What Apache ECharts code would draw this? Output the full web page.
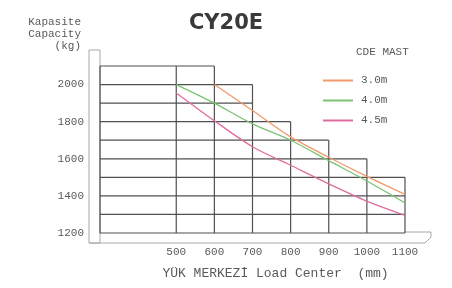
<!DOCTYPE html>
<html>
<head>
<meta charset="utf-8">
<script src="https://cdn.jsdelivr.net/npm/echarts@6/dist/echarts.min.js"></script>
<style>
  html, body { margin: 0; padding: 0; background: #fff; }
  #chart { width: 452px; height: 288px; }
</style>
</head>
<body>
<div id="chart"></div>
<script>
// load center (mm) where each curve is sampled
const centers30 = [600, 700, 800, 900, 1000, 1100];
const centers40 = [500, 600, 700, 800, 900, 1000, 1100];
const centers45 = [500, 600, 700, 800, 900, 1000, 1100];
// capacity (kg) per mast height
const mast30 = [2000, 1860, 1718, 1608, 1505, 1408];
const mast40 = [2000, 1900, 1788, 1700, 1590, 1480, 1362];
const mast45 = [1955, 1805, 1665, 1565, 1465, 1372, 1295];
const mastNames = ["3.0m", "4.0m", "4.5m"];

// stepped background table: horizontal rows and where each one stops
const rowLevels = [2100, 2000, 1900, 1800, 1700, 1600, 1500, 1400, 1300, 1200];
const rowEnds = [600, 700, 700, 800, 900, 1000, 1100, 1100, 1100, 1100];
// vertical columns and the level each one starts from
const colPositions = [300, 500, 600, 700, 800, 900, 1000, 1100];
const colTops = [2100, 2100, 2100, 2000, 1800, 1700, 1600, 1500];

const xMin = 300, xMax = 1100, yMin = 1200, yMax = 2100;
const fontMono = "Liberation Mono";
const textGray = "#5a5a5a";
const gridColor = "#505050";

const chart = echarts.init(document.getElementById("chart"));

function pairs(xs, ys) {
  return xs.map((x, i) => [x, ys[i]]);
}

// rows of the table
function renderRow(params, api) {
  const a = api.coord([xMin, api.value(0)]);
  const b = api.coord([api.value(1), api.value(0)]);
  return {
    type: "line",
    shape: { x1: a[0], y1: a[1], x2: b[0], y2: b[1] },
    style: { stroke: gridColor, lineWidth: 1.2 },
  };
}

// columns of the table
function renderCol(params, api) {
  const a = api.coord([api.value(0), yMin]);
  const b = api.coord([api.value(0), api.value(1)]);
  return {
    type: "line",
    shape: { x1: a[0], y1: a[1], x2: b[0], y2: b[1] },
    style: { stroke: gridColor, lineWidth: 1.2 },
  };
}

// the thin "box" axis frame round the table
function renderFrame(params, api) {
  const bl = api.coord([xMin, yMin]);
  const tl = api.coord([xMin, yMax]);
  const br = api.coord([xMax, yMin]);
  const st = { stroke: "#a8a8a8", fill: null, lineWidth: 1 };
  return {
    type: "group",
    children: [
      {
        type: "rect",
        shape: { x: bl[0] - 11, y: tl[1] - 16, width: 11, height: bl[1] - tl[1] + 26 },
        style: st,
      },
      {
        type: "polyline",
        shape: {
          points: [
            [bl[0] - 11, bl[1] + 10],
            [br[0] + 20, bl[1] + 10],
            [br[0] + 26, bl[1] + 4],
            [br[0] + 26, bl[1] - 1],
            [br[0], bl[1] - 1],
          ],
        },
        style: st,
      },
    ],
  };
}

const option = {
  animation: false,
  title: [
    {
      text: "CY20E",
      left: "center",
      top: 8,
      textStyle: { fontSize: 21, fontWeight: "bold", color: "#3a3a3a", fontFamily: "DejaVu Sans" },
    },
    {
      text: "CDE MAST",
      left: 351,
      top: 42,
      textStyle: { fontSize: 11, fontWeight: "normal", color: textGray, fontFamily: fontMono },
    },
  ],
  legend: {
    orient: "vertical",
    left: 318,
    top: 70,
    icon: "rect",
    itemWidth: 30,
    itemHeight: 2,
    itemGap: 9,
    data: mastNames,
    textStyle: { fontSize: 11, color: textGray, fontFamily: fontMono, padding: [0, 0, 0, 3] },
  },
  grid: { left: 100, right: 47, top: 66, bottom: 55 },
  xAxis: {
    type: "value",
    min: xMin,
    max: xMax,
    interval: 100,
    axisLine: { show: false },
    axisTick: { show: false },
    splitLine: { show: false },
    axisLabel: {
      margin: 14,
      fontSize: 11,
      color: textGray,
      fontFamily: fontMono,
      formatter: (v) => (v >= 500 ? String(v) : ""),
    },
    name: "YÜK MERKEZİ Load Center  (mm)",
    nameLocation: "middle",
    nameGap: 34,
    nameTextStyle: { fontSize: 13, color: textGray, fontFamily: fontMono, padding: [0, 0, 0, 46] },
  },
  yAxis: {
    type: "value",
    min: yMin,
    max: yMax,
    interval: 100,
    axisLine: { show: false },
    axisTick: { show: false },
    splitLine: { show: false },
    axisLabel: {
      margin: 16,
      fontSize: 11,
      color: textGray,
      fontFamily: fontMono,
      formatter: (v) => (v % 200 === 0 && v < yMax ? String(v) : ""),
    },
    name: "Kapasite\nCapacity\n(kg)",
    nameLocation: "end",
    nameGap: 14,
    nameTextStyle: {
      fontSize: 11,
      lineHeight: 12,
      color: textGray,
      fontFamily: fontMono,
      align: "right",
      verticalAlign: "bottom",
      padding: [0, 19, 0, 0],
    },
  },
  series: [
    { type: "custom", silent: true, renderItem: renderFrame, data: [[xMin, yMin]], clip: false, z: 1 },
    { type: "custom", silent: true, renderItem: renderRow, data: pairs(rowLevels, rowEnds), z: 2 },
    { type: "custom", silent: true, renderItem: renderCol, data: pairs(colPositions, colTops), z: 2 },
    {
      name: mastNames[0],
      type: "line",
      smooth: 0.3,
      showSymbol: false,
      color: "#f29a6a",
      lineStyle: { width: 1.3 },
      data: pairs(centers30, mast30),
      z: 3,
    },
    {
      name: mastNames[1],
      type: "line",
      smooth: 0.3,
      showSymbol: false,
      color: "#7cc274",
      lineStyle: { width: 1.3 },
      data: pairs(centers40, mast40),
      z: 3,
    },
    {
      name: mastNames[2],
      type: "line",
      smooth: 0.3,
      showSymbol: false,
      color: "#e06c9f",
      lineStyle: { width: 1.3 },
      data: pairs(centers45, mast45),
      z: 3,
    },
  ],
};

chart.setOption(option);
</script>
</body>
</html>
